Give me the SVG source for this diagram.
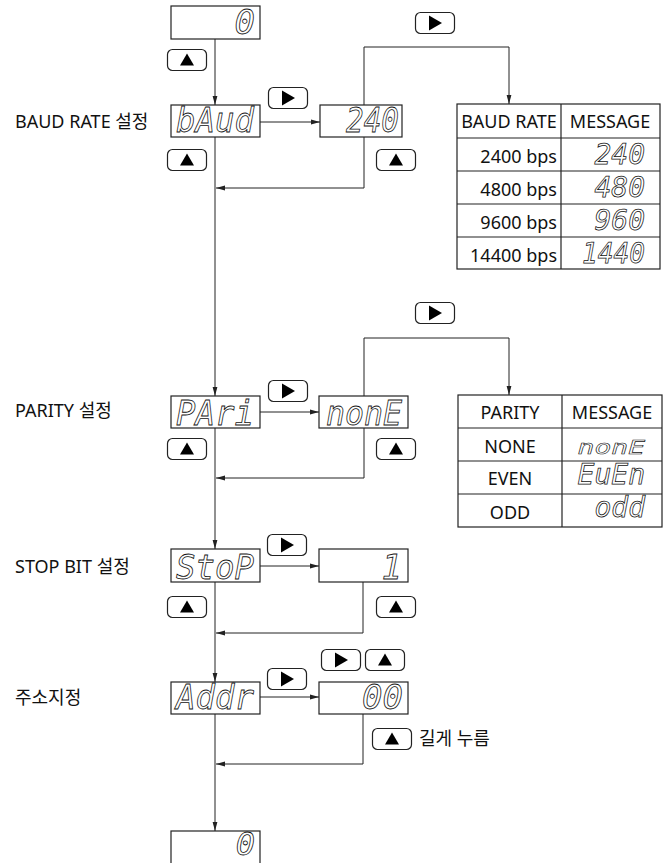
<svg xmlns="http://www.w3.org/2000/svg" xmlns:xlink="http://www.w3.org/1999/xlink" width="669" height="863" viewBox="0 0 669 863">
<style>
.box{fill:#fff;stroke:#222;stroke-width:1.2}
.btn{fill:#fff;stroke:#222;stroke-width:1.2}
.ln{fill:none;stroke:#222;stroke-width:1}
.seg{font-family:"DejaVu Sans Mono",monospace;font-style:italic;font-size:34px;fill:#fff;stroke:#111;stroke-width:0.8}
.segs{font-family:"DejaVu Sans Mono",monospace;font-style:italic;font-size:28px;fill:#fff;stroke:#111;stroke-width:0.75}
.lbl{font-family:"Noto Sans","Noto Sans CJK KR",sans-serif;font-size:18px;fill:#111}
.c{text-anchor:middle}
.e{text-anchor:end}
.tbl{fill:none;stroke:#222;stroke-width:1.2}
</style>
<defs>
<marker id="ah" markerUnits="userSpaceOnUse" markerWidth="10" markerHeight="6" refX="9" refY="3" orient="auto">
<path d="M0,0.6 L9,3 L0,5.4 Z" fill="#222"/>
</marker>
<g id="bup"><rect class="btn" x="0.5" y="0.5" width="39" height="21" rx="5"/><path d="M20,4.5 L27,16.5 L13,16.5 Z" fill="#000"/></g>
<g id="brt"><rect class="btn" x="0.5" y="0.5" width="39" height="21" rx="5"/><path d="M14,3.5 L27,11 L14,18.5 Z" fill="#000"/></g>
</defs>

<g id="labels">
<text class="lbl" x="15" y="128">BAUD RATE 설정</text>
<text class="lbl" x="15" y="417">PARITY 설정</text>
<text class="lbl" x="15" y="573">STOP BIT 설정</text>
<text class="lbl" x="15" y="704">주소지정</text>
</g>

<g id="connectors">
<line class="ln" x1="215" y1="39" x2="215" y2="105" marker-end="url(#ah)"/>
<line class="ln" x1="215" y1="137" x2="215" y2="396" marker-end="url(#ah)"/>
<line class="ln" x1="215" y1="428" x2="215" y2="549" marker-end="url(#ah)"/>
<line class="ln" x1="215" y1="582" x2="215" y2="682" marker-end="url(#ah)"/>
<line class="ln" x1="215" y1="714" x2="215" y2="831" marker-end="url(#ah)"/>
<line class="ln" x1="260" y1="122" x2="320" y2="122" marker-end="url(#ah)"/>
<line class="ln" x1="260" y1="412" x2="319" y2="412" marker-end="url(#ah)"/>
<line class="ln" x1="260" y1="566" x2="319" y2="566" marker-end="url(#ah)"/>
<line class="ln" x1="260" y1="697" x2="319" y2="697" marker-end="url(#ah)"/>
<polyline class="ln" points="364,137 364,188 216,188" marker-end="url(#ah)"/>
<polyline class="ln" points="364,428 364,478 216,478" marker-end="url(#ah)"/>
<polyline class="ln" points="363,582 363,633 216,633" marker-end="url(#ah)"/>
<polyline class="ln" points="363,714 363,764 216,764" marker-end="url(#ah)"/>
<polyline class="ln" points="364,105 364,47 509,47 509,104" marker-end="url(#ah)"/>
<polyline class="ln" points="364,396 364,338 509,338 509,395" marker-end="url(#ah)"/>
</g>

<g id="buttons">
<use xlink:href="#bup" x="167" y="49"/>
<use xlink:href="#bup" x="167" y="149"/>
<use xlink:href="#bup" x="376" y="149"/>
<use xlink:href="#bup" x="167" y="438"/>
<use xlink:href="#bup" x="376" y="438"/>
<use xlink:href="#bup" x="167" y="596"/>
<use xlink:href="#bup" x="376" y="596"/>
<use xlink:href="#bup" x="365" y="649"/>
<use xlink:href="#bup" x="372" y="728"/>
<use xlink:href="#brt" x="268" y="87"/>
<use xlink:href="#brt" x="415" y="12"/>
<use xlink:href="#brt" x="268" y="380"/>
<use xlink:href="#brt" x="415" y="302"/>
<use xlink:href="#brt" x="267" y="534"/>
<use xlink:href="#brt" x="267" y="668"/>
<use xlink:href="#brt" x="321" y="649"/>
<text class="lbl" x="419" y="745">길게 누름</text>
</g>

<g id="n-start"><rect class="box" x="171" y="6" width="89" height="33"/><text class="seg e" x="255" y="34">0</text></g>
<g id="n-baud"><rect class="box" x="171" y="105" width="89" height="32"/><text class="seg" x="176" y="131.5" textLength="78" lengthAdjust="spacingAndGlyphs">bAud</text></g>
<g id="n-240"><rect class="box" x="320" y="105" width="82" height="32"/><text class="seg e" x="399" y="131.5" textLength="53" lengthAdjust="spacingAndGlyphs">240</text></g>
<g id="n-pari"><rect class="box" x="171" y="396" width="89" height="32"/><text class="seg" x="176" y="424.5" textLength="78" lengthAdjust="spacingAndGlyphs">PAri</text></g>
<g id="n-none"><rect class="box" x="319" y="396" width="89" height="32"/><text class="seg e" x="402" y="424.5" textLength="76" lengthAdjust="spacingAndGlyphs">nonE</text></g>
<g id="n-stop"><rect class="box" x="171" y="549" width="89" height="33"/><text class="seg" x="176" y="579" textLength="78" lengthAdjust="spacingAndGlyphs">StoP</text></g>
<g id="n-1"><rect class="box" x="319" y="549" width="89" height="33"/><text class="seg e" x="402" y="579">1</text></g>
<g id="n-addr"><rect class="box" x="171" y="682" width="89" height="32"/><text class="seg" x="176" y="708.5" textLength="78" lengthAdjust="spacingAndGlyphs">Addr</text></g>
<g id="n-00"><rect class="box" x="319" y="682" width="89" height="32"/><text class="seg e" x="403" y="708.5">00</text></g>
<g id="n-end"><rect class="box" x="171" y="831" width="89" height="33"/><text class="seg e" x="255" y="855" style="font-size:32px">0</text></g>

<g id="t-baud">
<rect class="tbl" x="457" y="104" width="203" height="165"/>
<line class="tbl" x1="561" y1="104" x2="561" y2="269"/>
<line class="tbl" x1="457" y1="138" x2="660" y2="138"/>
<line class="tbl" x1="457" y1="171" x2="660" y2="171"/>
<line class="tbl" x1="457" y1="204" x2="660" y2="204"/>
<line class="tbl" x1="457" y1="237" x2="660" y2="237"/>
<text class="lbl c" x="509" y="128">BAUD RATE</text>
<text class="lbl c" x="610" y="128">MESSAGE</text>
<text class="lbl e" x="557" y="162.5">2400 bps</text>
<text class="lbl e" x="557" y="196">4800 bps</text>
<text class="lbl e" x="557" y="229">9600 bps</text>
<text class="lbl e" x="557" y="262">14400 bps</text>
<text class="segs e" x="645" y="164">240</text>
<text class="segs e" x="645" y="197">480</text>
<text class="segs e" x="645" y="230">960</text>
<text class="segs e" x="645" y="263" textLength="63" lengthAdjust="spacingAndGlyphs">1440</text>
</g>

<g id="t-parity">
<rect class="tbl" x="458" y="395" width="204" height="132"/>
<line class="tbl" x1="562" y1="395" x2="562" y2="527"/>
<line class="tbl" x1="458" y1="428" x2="662" y2="428"/>
<line class="tbl" x1="458" y1="461" x2="662" y2="461"/>
<line class="tbl" x1="458" y1="494" x2="662" y2="494"/>
<text class="lbl c" x="510" y="419">PARITY</text>
<text class="lbl c" x="612" y="419">MESSAGE</text>
<text class="lbl c" x="510" y="453">NONE</text>
<text class="lbl c" x="510" y="485">EVEN</text>
<text class="lbl c" x="510" y="519">ODD</text>
<text class="segs e" x="645" y="454" transform="translate(0,454) scale(1,0.7) translate(0,-454)">nonE</text>
<text class="segs e" x="645" y="484">EuEn</text>
<text class="segs e" x="645" y="517">odd</text>
</g>
</svg>
